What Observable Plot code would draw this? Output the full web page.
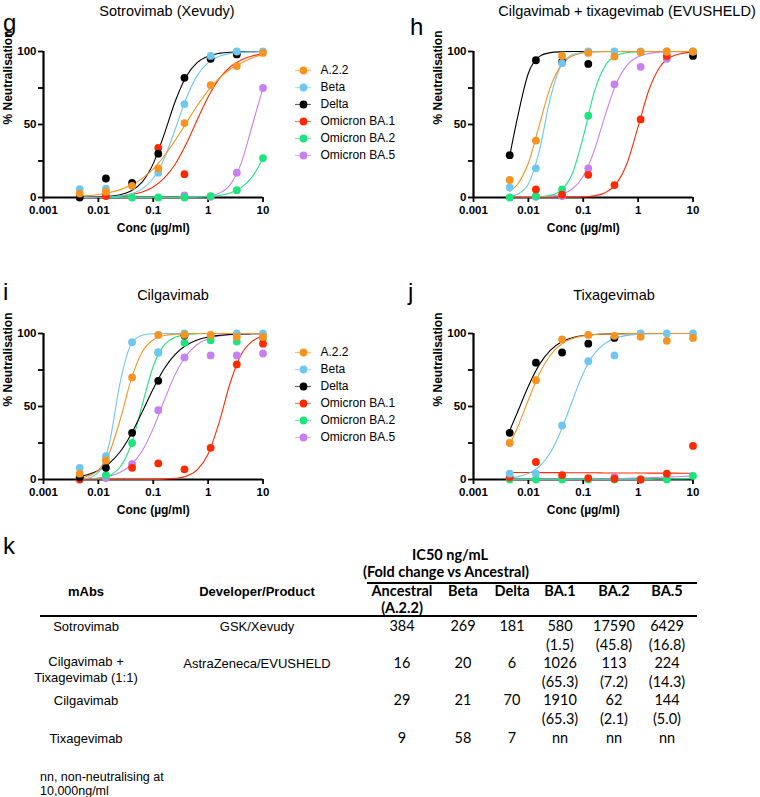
<!DOCTYPE html>
<html><head><meta charset="utf-8">
<script src="https://cdn.jsdelivr.net/npm/d3@7"></script>
<script src="https://cdn.jsdelivr.net/npm/@observablehq/plot@0.6"></script>
<style>
body{margin:0;background:#fff}
#fig{position:relative;width:760px;height:797px;background:#fff;overflow:hidden;font-family:"Liberation Sans",Arial,sans-serif;color:#000}
.t{position:absolute;white-space:nowrap;line-height:1}
.abs{position:absolute}
.abs svg{overflow:visible}
</style></head><body><div id="fig"></div>
<script>
// ---------- data ----------
const SERIES = ["A.2.2", "Beta", "Delta", "Omicron BA.1", "Omicron BA.2", "Omicron BA.5"];
const COLORS = ["#F7931E", "#6FC7EE", "#000000", "#FF2A00", "#1DE57E", "#C77FF1"];
const DRAW_ORDER = [5, 4, 3, 2, 1, 0];
const CONC = [0.00457, 0.01372, 0.04115, 0.1235, 0.3704, 1.111, 3.333, 10];
const X_TICKS = [0.001, 0.01, 0.1, 1, 10];
const Y_TICKS = [0, 25, 50, 75, 100];
const Y_LABELLED = [0, 50, 100];
const CURVE_X = [0.00457, 0.0063, 0.01, 0.0158, 0.0251, 0.0398, 0.0631, 0.1, 0.158, 0.251, 0.398, 0.631, 1, 1.585, 2.512, 3.981, 6.31, 10];

// g: Sotrovimab (Xevudy)
const G_DOTS = [
  [2.7, 4, 8, 20, 51, 77, 90, 99],
  [5.7, 6, null, 17, 64, 97, 100, 100],
  [0, 13, 10, 30, 82, 95, 98, null],
  [null, 1, null, 34, 16, null, null, null],
  [null, null, 0, 0, 0, 1, 5, 27],
  [null, null, null, null, 1.5, 0.5, 17, 75]
];
const G_CURVES = [
  [1.0, 1.3, 2.1, 3.4, 5.4, 8.5, 13.1, 19.6, 28.4, 39.1, 51, 62.8, 73.2, 81.6, 87.8, 92.1, 95.6, 98.0],
  [0.04, 0.08, 0.19, 0.46, 1.1, 2.6, 5.9, 13.2, 26.6, 46.7, 67.8, 83.5, 92.4, 96.7, 98.6, 99.4, 99.8, 99.9],
  [0.06, 0.12, 0.3, 0.75, 1.9, 4.6, 10.7, 23.2, 43.2, 65.8, 82.9, 92.4, 96.8, 98.7, 99.5, 99.8, 99.9, 100],
  [0.09, 0.14, 0.28, 0.54, 1.0, 2.0, 3.8, 7.2, 13.2, 22.8, 36.6, 53.1, 68.8, 81.2, 89.4, 94.2, 96.9, 98.4],
  [0, 0, 0, 0, 0, 0, 0, 0, 0.02, 0.05, 0.12, 0.28, 0.62, 1.4, 3.1, 6.8, 14.0, 26.9],
  [0, 0, 0, 0, 0, 0, 0, 0, 0, 0.03, 0.1, 0.3, 0.95, 2.9, 8.7, 23.2, 48.8, 75.1]
];
// h: Cilgavimab + tixagevimab (EVUSHELD)
const H_DOTS = [
  [12, 39, 97, 99, 96.5, 99.5, 100, 100],
  [7, 20, 92, 100, 100, 100, 100, 100],
  [29, 94, 93, 91.5, null, null, null, 97],
  [null, 5.5, 2, 15.5, 8.5, 53.5, 97, null],
  [0, 1, 5.5, 56, null, null, null, null],
  [null, 0.5, 1, 20, 77.5, 89.5, 95, null]
];
const H_CURVES = [
  [4.2, 8.9, 23.6, 49.4, 75.6, 90.7, 96.9, 99.0, 99.7, 99.9, 100, 100, 100, 100, 100, 100, 100, 100],
  [0.75, 2.2, 9.3, 31.8, 68.1, 90.7, 97.8, 99.5, 99.9, 100, 100, 100, 100, 100, 100, 100, 100, 100],
  [28.4, 54.3, 85.1, 96.5, 99.2, 99.8, 100, 100, 100, 100, 100, 100, 100, 100, 100, 100, 100, 100],
  [0, 0, 0, 0, 0, 0.04, 0.12, 0.37, 1.1, 3.3, 9.3, 23.6, 48.5, 74.0, 89.6, 96.3, 98.7, 99.6],
  [0.01, 0.03, 0.11, 0.41, 1.46, 5.1, 16.3, 41.5, 72.0, 90.3, 97.1, 99.2, 99.8, 100, 100, 100, 100, 100],
  [0.02, 0.04, 0.11, 0.29, 0.81, 2.2, 5.8, 14.5, 31.9, 56.3, 78.0, 90.7, 96.4, 98.7, 99.5, 99.8, 99.9, 100]
];
// i: Cilgavimab
const I_DOTS = [
  [4, 13, 70, 99, 99, 99, 97.7, 97.7],
  [8, 16, 94, 87, 100, null, 100, 100],
  [1.5, 8, 32, 67.6, 98.6, null, null, null],
  [0, null, 8, 11, 7, 21.7, 78.8, 93],
  [null, 3, 25, 87, 93.6, 95.4, 94.5, 96.6],
  [1, 1, 10.5, 47.5, 83.6, 85, 85, 86.3]
];
const I_CURVES = [
  [0.99, 2.2, 6.5, 18.1, 41.2, 68.9, 87.5, 95.7, 98.6, 99.5, 99.8, 100, 100, 100, 100, 100, 100, 100],
  [0.22, 0.81, 4.9, 24.5, 67.1, 92.8, 98.8, 99.8, 100, 100, 100, 100, 100, 100, 100, 100, 100, 100],
  [2.15, 3.3, 6.2, 11.1, 19.2, 31.2, 46.4, 62.2, 75.9, 85.7, 91.9, 95.6, 97.6, 98.7, 99.3, 99.65, 99.8, 99.9],
  [0, 0, 0, 0, 0, 0, 0.03, 0.08, 0.26, 0.77, 2.3, 6.6, 17.5, 39.0, 65.9, 85.4, 94.6, 98.2],
  [0.11, 0.26, 0.87, 2.8, 8.7, 24.0, 51.2, 77.6, 92.0, 97.4, 99.2, 99.8, 100, 100, 100, 100, 100, 100],
  [0.28, 0.49, 1.06, 2.3, 4.9, 10.1, 19.7, 35.0, 54.1, 72.0, 84.9, 92.5, 96.4, 98.3, 99.2, 99.6, 99.8, 99.9]
];
// j: Tixagevimab
const J_DOTS = [
  [25, 68, 96, 99, 98.4, 97.7, 95, 97],
  [4, 4, 37, 81, 85, 100, 100, 100],
  [32, 80, 87, 93, 97, null, null, null],
  [1.5, 12, 3, 1, 0.5, 0, 4, 23],
  [0, 0, 0, 0, 0, 0, 0, 2.5],
  [0.5, null, null, null, 1.6, null, null, null]
];
const J_CURVES = [
  [24.0, 35.4, 54.5, 72.4, 85.1, 92.6, 96.5, 98.4, 99.2, 99.65, 99.8, 99.9, 100, 100, 100, 100, 100, 100],
  [1.0, 1.8, 4.1, 8.9, 18.3, 33.9, 53.8, 72.8, 86.0, 93.3, 97.0, 98.7, 99.4, 99.7, 99.9, 100, 100, 100],
  [33.6, 45.9, 63.9, 78.7, 88.5, 94.2, 97.1, 98.6, 99.3, 99.7, 99.8, 99.9, 100, 100, 100, 100, 100, 100],
  [4.8, 4.8, 4.8, 4.7, 4.7, 4.7, 4.6, 4.6, 4.6, 4.5, 4.5, 4.5, 4.5, 4.4, 4.4, 4.4, 4.3, 4.3],
  [0, 0, 0, 0, 0, 0, 0, 0, 0, 0, 0, 0, 0.1, 0.1, 0.2, 0.3, 0.4, 0.6],
  [0.3, 0.3, 0.3, 0.3, 0.3, 0.3, 0.3, 0.3, 0.4, 0.5, 0.6, 0.8, 1.0, 1.2, 1.5, 1.8, 2.1, 2.5]
];

const PANEL_LETTERS = ["g", "h", "i", "j"];
const PANEL_TITLES = ["Sotrovimab (Xevudy)", "Cilgavimab + tixagevimab (EVUSHELD)", "Cilgavimab", "Tixagevimab"];
const X_LABEL = "Conc (\u00B5g/ml)";
const Y_LABEL = "% Neutralisation";

// table k
const TABLE_TITLE = "IC50 ng/mL";
const TABLE_SUBTITLE = "(Fold change vs Ancestral)";
const HEAD_LEFT = ["mAbs", "Developer/Product"];
const VARIANT_HEAD = ["Ancestral", "Beta", "Delta", "BA.1", "BA.2", "BA.5"];
const VARIANT_SUBHEAD = ["(A.2.2)", "", "", "", "", ""];
const MABS = [["Sotrovimab"], ["Cilgavimab +", "Tixagevimab (1:1)"], ["Cilgavimab"], ["Tixagevimab"]];
const DEVELOPERS = ["GSK/Xevudy", "AstraZeneca/EVUSHELD", "", ""];
const IC50 = [
  ["384", "269", "181", "580", "17590", "6429"],
  ["16", "20", "6", "1026", "113", "224"],
  ["29", "21", "70", "1910", "62", "144"],
  ["9", "58", "7", "nn", "nn", "nn"]
];
const FOLD = [
  ["", "", "", "(1.5)", "(45.8)", "(16.8)"],
  ["", "", "", "(65.3)", "(7.2)", "(14.3)"],
  ["", "", "", "(65.3)", "(2.1)", "(5.0)"],
  ["", "", "", "", "", ""]
];
const FOOTNOTE = ["nn, non-neutralising at", "10,000ng/ml"];

// ---------- drawing ----------
const fig = document.getElementById("fig");
function txt(s, x, y, o = {}) {
  const d = document.createElement("div");
  d.className = "t";
  d.textContent = s;
  d.style.left = x + "px";
  d.style.top = y + "px";
  d.style.fontSize = (o.size || 13) + "px";
  d.style.fontWeight = o.weight || "normal";
  if (o.family) d.style.fontFamily = o.family;
  const ax = o.anchor === "start" ? "0" : o.anchor === "end" ? "-100%" : "-50%";
  d.style.transform = `translate(${ax},-50%)`;
  fig.appendChild(d);
}
function place(node, left, top) {
  const w = document.createElement("div");
  w.className = "abs";
  w.style.left = left + "px";
  w.style.top = top + "px";
  w.appendChild(node);
  fig.appendChild(w);
}
function hline(x1, x2, y, w) {
  const d = document.createElement("div");
  d.className = "abs";
  d.style.left = x1 + "px";
  d.style.top = (y - w / 2) + "px";
  d.style.width = (x2 - x1) + "px";
  d.style.height = w + "px";
  d.style.background = "#000";
  fig.appendChild(d);
}

function panel(curves, dots, marginLeft) {
  const lineData = [], dotData = [];
  DRAW_ORDER.forEach(si => {
    curves[si].forEach((v, k) => lineData.push({series: SERIES[si], x: CURVE_X[k], y: v}));
    dots[si].forEach((v, k) => { if (v != null) dotData.push({series: SERIES[si], x: CONC[k], y: v}); });
  });
  return Plot.plot({
    width: 380, height: 240,
    marginLeft, marginRight: 380 - marginLeft - 219.5, marginTop: 51, marginBottom: 43,
    x: {type: "log", domain: [0.001, 10]},
    y: {domain: [0, 100]},
    color: {domain: SERIES, range: COLORS},
    style: {fontFamily: "Liberation Sans, Arial, sans-serif", color: "#000", background: "transparent", overflow: "visible"},
    marks: [
      Plot.axisX(X_TICKS, {tickFormat: d => String(d), tickSize: 5, tickPadding: 3, fontSize: 11.5, fontWeight: "bold", strokeWidth: 1.8, label: null}),
      Plot.axisY(Y_TICKS, {tickFormat: d => Y_LABELLED.includes(d) ? String(d) : "", tickSize: 5, tickPadding: 2, fontSize: 11.5, fontWeight: "bold", strokeWidth: 1.8, label: null}),
      Plot.ruleX([0.001], {strokeWidth: 2.2}),
      Plot.ruleY([0], {strokeWidth: 2.2}),
      Plot.text([X_LABEL], {text: d => d, frameAnchor: "bottom", lineAnchor: "middle", dy: 31, fontWeight: "bold", fontSize: 12}),
      Plot.text([Y_LABEL], {text: d => d, frameAnchor: "left", lineAnchor: "middle", dx: -35, rotate: -90, fontWeight: "bold", fontSize: 12}),
      Plot.line(lineData, {x: "x", y: "y", z: "series", stroke: "series", strokeWidth: 1.1, curve: "monotone-x"}),
      Plot.dot(dotData, {x: "x", y: "y", fill: "series", r: 3.9})
    ]
  });
}

function legend() {
  return Plot.plot({
    width: 110, height: 124, margin: 0,
    x: {domain: [0, 1], range: [5, 21], axis: null},
    y: {type: "point", domain: SERIES, range: [11, 113], axis: null},
    color: {domain: SERIES, range: COLORS},
    style: {fontFamily: "Liberation Sans, Arial, sans-serif", background: "transparent", overflow: "visible"},
    marks: [
      Plot.ruleY(SERIES, {y: d => d, x1: 0, x2: 1, stroke: d => d, strokeWidth: 1.2, strokeOpacity: 0.6}),
      Plot.dot(SERIES, {x: 0.5, y: d => d, fill: d => d, r: 3.9}),
      Plot.text(SERIES, {x: 1, dx: 9, y: d => d, text: d => d, textAnchor: "start", fontSize: 12, fill: "#000"})
    ]
  });
}

// panels
place(panel(G_CURVES, G_DOTS, 43), 0, 0);
place(panel(H_CURVES, H_DOTS, 93), 380, 0);
place(panel(I_CURVES, I_DOTS, 43), 0, 282);
place(panel(J_CURVES, J_DOTS, 93), 380, 282);
place(legend(), 290, 50);
place(legend(), 290, 332);

// letters and titles
txt(PANEL_LETTERS[0], 3, 23, {size: 24, anchor: "start"});
txt(PANEL_LETTERS[1], 410, 27, {size: 24, anchor: "start"});
txt(PANEL_LETTERS[2], 3, 292, {size: 24, anchor: "start"});
txt(PANEL_LETTERS[3], 408, 292, {size: 24, anchor: "start"});
txt(PANEL_TITLES[0], 167, 11, {size: 14.5});
txt(PANEL_TITLES[1], 627, 11, {size: 14.5});
txt(PANEL_TITLES[2], 173, 295, {size: 14.5});
txt(PANEL_TITLES[3], 614, 295, {size: 14.5});

// table
txt("k", 3, 546, {size: 24, anchor: "start"});
const NUMF = "Lato, 'Noto Sans', sans-serif";
const COLX = [402, 463, 512, 560, 614, 667];
txt(TABLE_TITLE, 450, 555, {size: 14.5, weight: "bold", family: NUMF});
txt(TABLE_SUBTITLE, 446, 572, {size: 14.5, weight: "bold", family: NUMF});
hline(367, 697, 583, 1.5);
txt(HEAD_LEFT[0], 86, 591, {size: 13, weight: "bold"});
txt(HEAD_LEFT[1], 257, 591, {size: 13, weight: "bold"});
VARIANT_HEAD.forEach((h, c) => txt(h, COLX[c], 591, {size: 14.5, weight: "bold", family: NUMF}));
VARIANT_SUBHEAD.forEach((h, c) => { if (h) txt(h, COLX[c], 608, {size: 14.5, weight: "bold", family: NUMF}); });
hline(40, 697, 616, 1.5);
const ROW_Y = [626, 663, 700, 738];
const FOLD_Y = [645, 682, 719, 757];
MABS.forEach((lines, r) => {
  if (lines.length === 1) txt(lines[0], 86, ROW_Y[r], {size: 13});
  else { txt(lines[0], 86, ROW_Y[r] - 2, {size: 13}); txt(lines[1], 86, ROW_Y[r] + 14, {size: 13}); }
  if (DEVELOPERS[r]) txt(DEVELOPERS[r], 257, ROW_Y[r], {size: 13});
  IC50[r].forEach((v, c) => txt(v, COLX[c], ROW_Y[r], {size: 14.5, family: NUMF}));
  FOLD[r].forEach((v, c) => { if (v) txt(v, COLX[c], FOLD_Y[r], {size: 14.5, family: NUMF}); });
});
txt(FOOTNOTE[0], 40, 777, {size: 12.5, anchor: "start"});
txt(FOOTNOTE[1], 40, 791, {size: 12.5, anchor: "start"});
</script></body></html>
